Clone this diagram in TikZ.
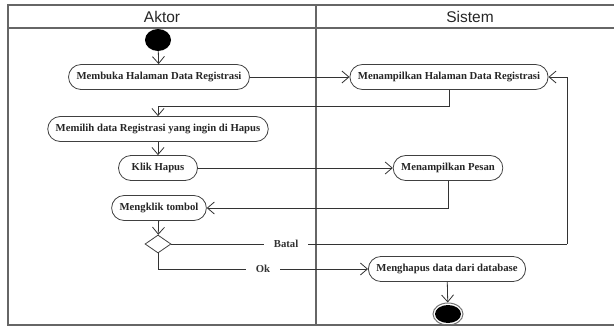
\documentclass[tikz,border=0pt]{standalone}
\usepackage{fontspec}
\setmainfont{Liberation Serif}
\newfontfamily\headfont{Liberation Sans}
\usetikzlibrary{arrows.meta}
\usetikzlibrary{shapes.geometric}

\begin{document}
\begin{tikzpicture}[x=1pt,y=1pt,yscale=-1,xscale=1,
  activity/.style={draw=black!75,line width=0.8pt,rounded corners=12.5pt,minimum height=25pt,inner xsep=8pt,inner ysep=0pt,font=\fontsize{10.7}{12}\selectfont\bfseries,text=black!85},
  flow/.style={draw=black!80,line width=0.8pt,-{Straight Barb[length=7pt,width=12pt,line width=0.8pt]}},
  line/.style={draw=black!80,line width=0.8pt},
  guard/.style={fill=white,inner xsep=10pt,inner ysep=1pt,font=\fontsize{10.7}{12}\selectfont\bfseries,text=black!80},
  lane/.style={draw=black!60,line width=1.1pt},
  lanehead/.style={font=\headfont\fontsize{15.5}{18}\selectfont,text=black!85}]
\useasboundingbox (0,0) rectangle (614,327);

%Swimlanes
\draw [lane] (614,5) -- (8,5) -- (8,325) -- (614,325) ;
\draw [lane] (8,28) -- (614,28) ;
\draw [lane] (316,5) -- (316,325) ;
% Text Node
\node [lanehead] (aktor) at (162,17) {Aktor};
% Text Node
\node [lanehead] (sistem) at (470,17) {Sistem};

%Initial and final nodes
\node [ellipse,fill=black,minimum width=26pt,minimum height=22pt,inner sep=0pt] (mulai) at (158,40) {};
\node [ellipse,draw=black!55,line width=1pt,minimum width=30pt,minimum height=22pt,inner sep=0pt] (akhir) at (448,314) {};
\node [ellipse,fill=black,minimum width=26pt,minimum height=18pt,inner sep=0pt] at (akhir) {};

%Activities
\node [activity] (membuka) at (159,77) {Membuka Halaman Data Registrasi};
\node [activity] (tampilHal) at (449,77) {Menampilkan Halaman Data Registrasi};
\node [activity] (memilih) at (158,129) {Memilih data Registrasi yang ingin di Hapus};
\node [activity,minimum width=79pt] (klik) at (158,168) {Klik Hapus};
\node [activity] (tampilPesan) at (448,168) {Menampilkan Pesan};
\node [activity] (mengklik) at (159,208) {Mengklik tombol};
\node [diamond,draw=black!75,line width=0.8pt,minimum width=26pt,minimum height=18pt,inner sep=0pt] (cek) at (158,244) {};
\node [activity] (hapus) at (447,269) {Menghapus data dari database};

\coordinate (belok) at (300,106);
\coordinate (balik) at (567,244);

%Straight Lines
\draw [flow] (mulai) -- (membuka) ;
\draw [flow] (membuka) -- (tampilHal) ;
\draw [flow] (tampilHal.south) |- (memilih.north |- belok) -- (memilih.north) ;
\draw [flow] (memilih) -- (klik) ;
\draw [flow] (klik) -- (tampilPesan) ;
\draw [flow] (tampilPesan.south) |- (mengklik.east) ;
\draw [flow] (mengklik) -- (cek) ;
\draw [line] (cek.east) -- node [guard,pos=0.29] {Batal} (balik) ;
\draw [flow] (balik) |- (tampilHal.east) ;
\draw [flow] (cek.south) |- node [guard,pos=0.75] {Ok} (hapus.west) ;
\draw [flow] (hapus) -- (akhir) ;

\end{tikzpicture}
\end{document}
